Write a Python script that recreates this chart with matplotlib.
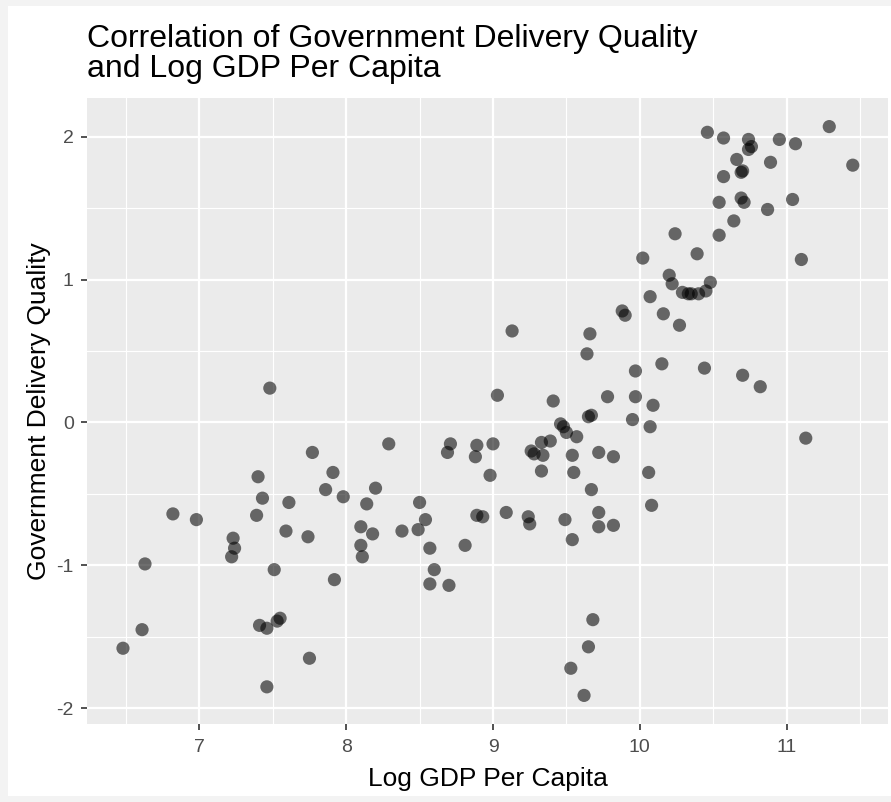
import matplotlib
matplotlib.use("Agg")
import matplotlib.pyplot as plt
from matplotlib.patches import Rectangle
from matplotlib.ticker import MultipleLocator

plt.rcParams['font.family'] = ['Liberation Sans', 'DejaVu Sans']
plt.rcParams['axes.unicode_minus'] = False

# values
log_gdp = [10.46, 10.57, 10.74, 10.74, 10.76, 10.95, 11.06, 11.29, 11.45, 10.66,
           10.89, 10.69, 10.70, 10.57, 10.54, 10.69, 10.71, 10.87, 11.04, 10.64,
           10.54, 10.24, 10.39, 10.02, 11.10, 10.20, 10.22, 10.48, 10.29, 10.33,
           10.35, 10.40, 10.45, 10.07, 9.88, 9.90, 10.16, 10.27, 9.13, 9.66,
           9.64, 10.15, 9.97, 10.44, 10.70, 10.82, 9.03, 9.41, 9.78, 9.97,
           10.09, 9.65, 9.67, 9.95, 9.46, 9.48, 10.07, 9.50, 9.57, 11.13,
           9.00, 9.33, 9.39, 9.26, 9.28, 9.34, 9.54, 9.72, 9.82, 9.33,
           9.55, 10.06, 8.98, 9.67, 10.08, 9.09, 9.24, 9.25, 9.49, 9.72,
           9.72, 9.82, 9.54, 9.68, 9.65, 9.53, 9.62,
           8.29, 8.71, 8.69, 8.89, 8.88, 8.89, 8.93, 8.81, 8.57, 8.60,
           8.57, 8.70, 8.50, 8.54, 8.49, 8.38, 8.20, 8.14, 8.10, 8.18,
           8.10, 8.11, 7.98, 7.91, 7.86, 7.77, 7.74, 7.92, 7.75, 7.61,
           7.59, 7.51, 7.40, 7.43, 7.39, 7.53, 7.55, 7.41, 7.46, 7.46,
           7.23, 7.24, 7.22, 6.98, 6.82, 6.63, 6.61, 6.48, 7.48]
delivery = [2.03, 1.99, 1.98, 1.91, 1.93, 1.98, 1.95, 2.07, 1.80, 1.84,
            1.82, 1.75, 1.76, 1.72, 1.54, 1.57, 1.54, 1.49, 1.56, 1.41,
            1.31, 1.32, 1.18, 1.15, 1.14, 1.03, 0.97, 0.98, 0.91, 0.90,
            0.90, 0.90, 0.92, 0.88, 0.78, 0.75, 0.76, 0.68, 0.64, 0.62,
            0.48, 0.41, 0.36, 0.38, 0.33, 0.25, 0.19, 0.15, 0.18, 0.18,
            0.12, 0.04, 0.05, 0.02, -0.01, -0.03, -0.03, -0.07, -0.10, -0.11,
            -0.15, -0.14, -0.13, -0.20, -0.22, -0.23, -0.23, -0.21, -0.24, -0.34,
            -0.35, -0.35, -0.37, -0.47, -0.58, -0.63, -0.66, -0.71, -0.68, -0.63,
            -0.73, -0.72, -0.82, -1.38, -1.57, -1.72, -1.91,
            -0.15, -0.15, -0.21, -0.16, -0.24, -0.65, -0.66, -0.86, -0.88, -1.03,
            -1.13, -1.14, -0.56, -0.68, -0.75, -0.76, -0.46, -0.57, -0.73, -0.78,
            -0.86, -0.94, -0.52, -0.35, -0.47, -0.21, -0.80, -1.10, -1.65, -0.56,
            -0.76, -1.03, -0.38, -0.53, -0.65, -1.39, -1.37, -1.42, -1.44, -1.85,
            -0.81, -0.88, -0.94, -0.68, -0.64, -0.99, -1.45, -1.58, 0.24]

W, H = 891, 802
fig = plt.figure(figsize=(W / 100, H / 100), dpi=100, facecolor='#f3f3f3')
fig.patches.append(Rectangle((8 / W, 6 / H), 1 - 8 / W, 1 - 12 / H,
                             transform=fig.transFigure, facecolor='white',
                             edgecolor='none', zorder=-1))

ax = fig.add_axes([87 / W, 1 - 724 / H, (888 - 87) / W, (724 - 98) / H])
ax.set_facecolor('#ebebeb')
for s in ax.spines.values():
    s.set_visible(False)

ax.scatter(log_gdp, delivery, s=90, color='black', alpha=0.57,
           edgecolors='none', zorder=3)

ax.set_xlim(6.235, 11.69)
ax.set_ylim(-2.11, 2.27)
ax.xaxis.set_major_locator(MultipleLocator(1))
ax.yaxis.set_major_locator(MultipleLocator(1))
ax.xaxis.set_minor_locator(MultipleLocator(0.5))
ax.yaxis.set_minor_locator(MultipleLocator(0.5))
ax.grid(which='major', color='white', linewidth=1.6)
ax.grid(which='minor', color='white', linewidth=0.8)
ax.set_axisbelow(True)

ax.tick_params(which='major', length=4.5, width=1.2, color='#333333',
               labelcolor='#4d4d4d', labelsize=14)
ax.tick_params(axis='x', pad=6)
ax.tick_params(axis='y', pad=5)
ax.tick_params(which='minor', length=0)

ax.set_xlabel('Log GDP Per Capita', fontsize=19, labelpad=8)
ax.set_ylabel('Government Delivery Quality', fontsize=19, labelpad=4)

fig.text(87 / W, 1 - 24 / H,
         'Correlation of Government Delivery Quality\nand Log GDP Per Capita',
         fontsize=23, ha='left', va='top', linespacing=1.02)

fig.savefig('out.png', dpi=100, facecolor=fig.get_facecolor())
